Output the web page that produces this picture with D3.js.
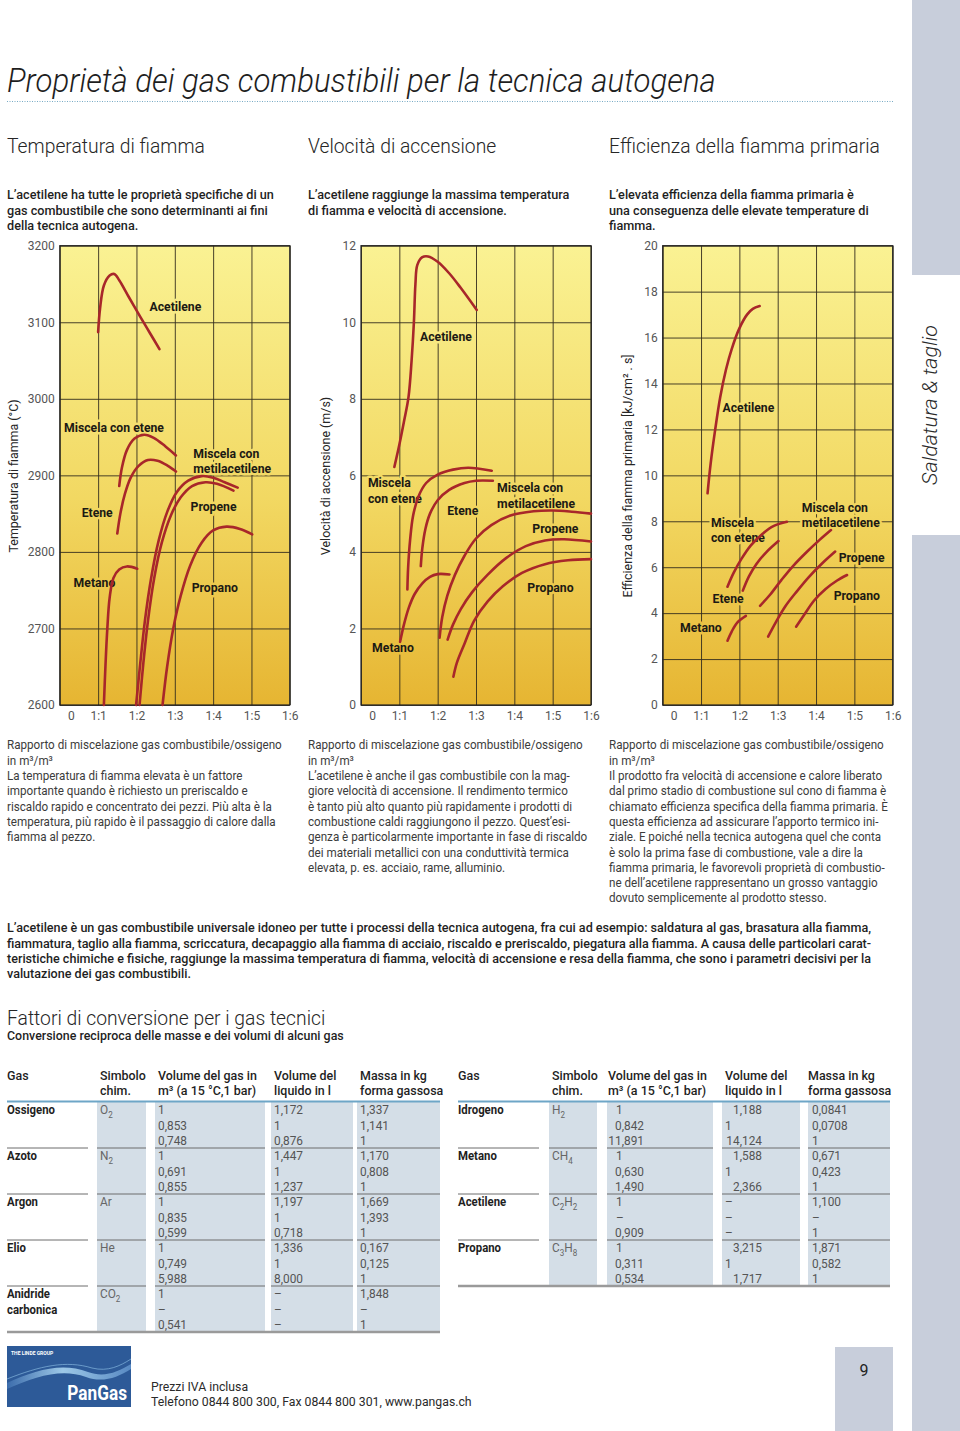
<!DOCTYPE html>
<html>
<head>
<meta charset="utf-8">
<script src="https://cdn.jsdelivr.net/npm/d3@7"></script>
<style>
  body { margin: 0; background: #fff; }
  svg { display: block; }
</style>
</head>
<body>
<svg id="page" width="960" height="1431"></svg>
<script>
var FONT = "Roboto, 'Open Sans', 'DejaVu Sans', sans-serif";

// ---- chart data ----
var ratioTicks = [0, 1, 2, 3, 4, 5, 6];
var ratioLabels = ["0", "1:1", "1:2", "1:3", "1:4", "1:5", "1:6"];
var tempTicks = [2600, 2700, 2800, 2900, 3000, 3100, 3200];
var speedTicks = [0, 2, 4, 6, 8, 10, 12];
var effTicks = [0, 2, 4, 6, 8, 10, 12, 14, 16, 18, 20];

var tempCurves = [
  ["Acetilene", [[1.0,3087],[1.05,3118],[1.15,3148],[1.3,3161],[1.42,3163],[1.55,3155],[1.8,3133],[2.1,3107],[2.35,3086],[2.6,3065]]],
  ["Miscela con etene", [[1.55,2886],[1.62,2910],[1.75,2933],[1.95,2948],[2.2,2953],[2.45,2949],[2.75,2938],[3.03,2926]]],
  ["Etene", [[1.5,2824],[1.58,2850],[1.7,2876],[1.85,2897],[2.05,2912],[2.3,2920],[2.55,2919],[2.8,2913],[3.03,2905]]],
  ["Metano", [[1.15,2600],[1.19,2650],[1.24,2700],[1.3,2740],[1.4,2766],[1.55,2777],[1.75,2781],[2.02,2778]]],
  ["Miscela con metilacetilene", [[1.99,2600],[2.1,2655],[2.22,2710],[2.38,2765],[2.58,2815],[2.8,2852],[3.05,2878],[3.35,2893],[3.7,2899],[4.0,2897],[4.3,2891],[4.64,2884]]],
  ["Propene", [[2.08,2600],[2.18,2655],[2.3,2710],[2.46,2765],[2.66,2812],[2.9,2848],[3.15,2871],[3.45,2886],[3.8,2891],[4.1,2889],[4.53,2880]]],
  ["Propano", [[2.68,2600],[2.8,2650],[2.96,2700],[3.15,2742],[3.4,2782],[3.7,2812],[4.0,2828],[4.35,2833],[4.7,2830],[5.02,2823]]]
];
var speedCurves = [
  ["Acetilene", [[0.87,6.22],[1.0,6.8],[1.12,7.4],[1.24,8.05],[1.32,9.0],[1.38,10.0],[1.42,11.0],[1.47,11.5],[1.6,11.7],[1.75,11.72],[2.0,11.58],[2.3,11.28],[2.6,10.9],[3.02,10.32]]],
  ["Miscela con etene", [[1.21,3.02],[1.23,3.6],[1.28,4.3],[1.36,4.95],[1.5,5.45],[1.7,5.8],[2.0,6.02],[2.4,6.15],[2.8,6.2],[3.41,6.12]]],
  ["Etene", [[1.56,3.63],[1.6,4.1],[1.68,4.6],[1.8,5.0],[2.0,5.35],[2.3,5.62],[2.7,5.8],[3.0,5.86],[3.44,5.86]]],
  ["Metano", [[1.02,1.65],[1.12,2.1],[1.25,2.55],[1.4,2.9],[1.6,3.18],[1.8,3.35],[2.0,3.42],[2.31,3.41]]],
  ["Miscela con metilacetilene", [[2.05,1.76],[2.12,2.3],[2.25,2.85],[2.45,3.4],[2.7,3.9],[3.0,4.35],[3.4,4.7],[3.9,4.95],[4.5,5.06],[5.0,5.08],[5.5,5.05],[6.0,5.0]]],
  ["Propene", [[2.26,1.71],[2.4,2.1],[2.6,2.5],[2.9,2.95],[3.3,3.4],[3.8,3.85],[4.3,4.15],[4.8,4.3],[5.3,4.33],[6.0,4.27]]],
  ["Propano", [[2.41,0.74],[2.5,1.1],[2.7,1.6],[2.95,2.2],[3.3,2.7],[3.7,3.1],[4.2,3.45],[4.8,3.68],[5.4,3.78],[6.0,3.81]]]
];
var effCurves = [
  ["Acetilene", [[1.17,9.22],[1.25,10.5],[1.37,12.0],[1.5,13.4],[1.65,14.6],[1.8,15.5],[2.0,16.4],[2.2,17.0],[2.35,17.25],[2.53,17.37]]],
  ["Miscela con etene", [[1.69,5.15],[1.85,5.75],[2.05,6.35],[2.3,6.95],[2.6,7.45],[2.9,7.8],[3.24,7.98]]],
  ["Etene", [[2.09,4.98],[2.25,5.6],[2.45,6.15],[2.7,6.65],[3.02,7.14]]],
  ["Metano", [[1.69,2.8],[1.8,3.2],[1.95,3.6],[2.17,3.88]]],
  ["Miscela con metilacetilene", [[2.54,4.32],[2.8,4.8],[3.1,5.45],[3.4,6.05],[3.75,6.65],[4.1,7.2],[4.39,7.62]]],
  ["Propene", [[2.75,2.98],[2.95,3.6],[3.2,4.3],[3.5,4.95],[3.8,5.55],[4.15,6.15],[4.5,6.68]]],
  ["Propano", [[3.48,3.41],[3.7,3.95],[3.95,4.55],[4.25,5.05],[4.55,5.42],[4.81,5.66]]]
];

// label anchors (left edge, vertical centre) in data units
var tempLabels = [["Acetilene",2.34,3120],["Miscela con etene",0.11,2962],["Miscela con\nmetilacetilene",3.48,2929],
  ["Etene",0.57,2852],["Propene",3.41,2859],["Metano",0.36,2760],["Propano",3.44,2754]];
var speedLabels = [["Acetilene",1.54,9.64],["Miscela\ncon etene",0.18,5.8],["Etene",2.25,5.07],
  ["Miscela con\nmetilacetilene",3.55,5.67],["Propene",4.47,4.62],["Propano",4.34,3.08],["Metano",0.29,1.49]];
var effLabels = [["Acetilene",1.56,12.97],["Miscela\ncon etene",1.26,7.96],["Miscela con\nmetilacetilene",3.63,8.61],
  ["Propene",4.59,6.42],["Etene",1.3,4.62],["Propano",4.46,4.78],["Metano",0.45,3.39]];

// ---- table data ----
var tableHeaders = [["Gas"], ["Simbolo", "chim."], ["Volume del gas in", "m³ (a 15 °C,1 bar)"], ["Volume del", "liquido in l"], ["Massa in kg", "forma gassosa"]];
var gasesA = ["Ossigeno", "Azoto", "Argon", "Elio", "Anidride\ncarbonica"];
var symbolsA = ["O_2", "N_2", "Ar", "He", "CO_2"];
var volGasA = [["1","0,853","0,748"],["1","0,691","0,855"],["1","0,835","0,599"],["1","0,749","5,988"],["1","–","0,541"]];
var volLiqA = [["1,172","1","0,876"],["1,447","1","1,237"],["1,197","1","0,718"],["1,336","1","8,000"],["–","–","–"]];
var massA = [["1,337","1,141","1"],["1,170","0,808","1"],["1,669","1,393","1"],["0,167","0,125","1"],["1,848","–","1"]];
var gasesB = ["Idrogeno", "Metano", "Acetilene", "Propano"];
var symbolsB = ["H_2", "CH_4", "C_2H_2", "C_3H_8"];
var volGasB = [["1","0,842","11,891"],["1","0,630","1,490"],["1","–","0,909"],["1","0,311","0,534"]];
var volLiqB = [["1,188","1","14,124"],["1,588","1","2,366"],["–","–","–"],["3,215","1","1,717"]];
var massB = [["0,0841","0,0708","1"],["0,671","0,423","1"],["1,100","–","1"],["1,871","0,582","1"]];

// ---- texts ----
var title = "Proprietà dei gas combustibili per la tecnica autogena";
var headings = ["Temperatura di fiamma", "Velocità di accensione", "Efficienza della fiamma primaria"];
var intros = [
  ["L’acetilene ha tutte le proprietà specifiche di un", "gas combustibile che sono determinanti ai fini", "della tecnica autogena."],
  ["L’acetilene raggiunge la massima temperatura", "di fiamma e velocità di accensione."],
  ["L’elevata efficienza della fiamma primaria è", "una conseguenza delle elevate temperature di", "fiamma."]
];
var notes = [
  ["Rapporto di miscelazione gas combustibile/ossigeno", "in m³/m³", "La temperatura di fiamma elevata è un fattore",
   "importante quando è richiesto un preriscaldo e", "riscaldo rapido e concentrato dei pezzi. Più alta è la",
   "temperatura, più rapido è il passaggio di calore dalla", "fiamma al pezzo."],
  ["Rapporto di miscelazione gas combustibile/ossigeno", "in m³/m³", "L’acetilene è anche il gas combustibile con la mag-",
   "giore velocità di accensione. Il rendimento termico", "è tanto più alto quanto più rapidamente i prodotti di",
   "combustione caldi raggiungono il pezzo. Quest’esi-", "genza è particolarmente importante in fase di riscaldo",
   "dei materiali metallici con una conduttività termica", "elevata, p. es. acciaio, rame, alluminio."],
  ["Rapporto di miscelazione gas combustibile/ossigeno", "in m³/m³", "Il prodotto fra velocità di accensione e calore liberato",
   "dal primo stadio di combustione sul cono di fiamma è", "chiamato efficienza specifica della fiamma primaria. È",
   "questa efficienza ad assicurare l’apporto termico ini-", "ziale. E poiché nella tecnica autogena quel che conta",
   "è solo la prima fase di combustione, vale a dire la", "fiamma primaria, le favorevoli proprietà di combustio-",
   "ne dell’acetilene rappresentano un grosso vantaggio", "dovuto semplicemente al prodotto stesso."]
];
var summary = [
  "L’acetilene è un gas combustibile universale idoneo per tutte i processi della tecnica autogena, fra cui ad esempio: saldatura al gas, brasatura alla fiamma,",
  "fiammatura, taglio alla fiamma, scriccatura, decapaggio alla fiamma di acciaio, riscaldo e preriscaldo, piegatura alla fiamma. A causa delle particolari carat-",
  "teristiche chimiche e fisiche, raggiunge la massima temperatura di fiamma, velocità di accensione e resa della fiamma, che sono i parametri decisivi per la",
  "valutazione dei gas combustibili."
];

var svg = d3.select("#page");
var defs = svg.append("defs");
var PT = 245.7, PB = 705, PW = 230;
var bg = defs.append("linearGradient").attr("id", "plotBg")
    .attr("gradientUnits", "userSpaceOnUse")
    .attr("x1", 0).attr("y1", PT).attr("x2", 0).attr("y2", PB);
bg.append("stop").attr("offset", 0).attr("stop-color", "#faf293");
bg.append("stop").attr("offset", 0.55).attr("stop-color", "#f2d862");
bg.append("stop").attr("offset", 1).attr("stop-color", "#e6b532");

// text styles: a condensing factor is measured so each style hits the width of the original
function style(size, weight, italic, sample, target) {
  var t = svg.append("text").attr("font-family", FONT).attr("font-size", size)
      .attr("font-weight", weight).attr("font-style", italic ? "italic" : "normal").text(sample);
  var w = t.node().getComputedTextLength();
  t.remove();
  return { size: size, weight: weight, italic: italic, k: w ? target / w : 1 };
}
var stTitle = style(34, 300, true, title, 709);
var stHead = style(21, 300, false, "Temperatura di fiamma", 198);
var stIntro = style(13, 500, false, intros[0][0], 267);
var stBody = style(13, 400, false, notes[0][0], 275);
var stSum = style(13, 500, false, summary[0], 864);
var stLabel = style(13, 700, false, "metilacetilene", 78);
var stAxis = style(13, 400, false, "Temperatura di fiamma (°C)", 153);
var stSub = style(13, 500, false, "Conversione reciproca delle masse e dei volumi di alcuni gas", 337);
var stTh = style(13, 500, false, "Volume del gas in", 99);
var stGas = style(13, 700, false, "Ossigeno", 48);
var stVal = style(13, 400, false, "0,853", 29);
var stFoot = style(13, 400, false, "Telefono 0844 800 300, Fax 0844 800 301, www.pangas.ch", 321);
var stSide = style(21, 300, true, "Saldatura & taglio", 160);

function txt(g, x, y, s, st, opt) {
  opt = opt || {};
  var t = g.append("text")
      .attr("transform", "translate(" + x + ",0) scale(" + st.k + ",1)")
      .attr("y", y)
      .attr("font-family", FONT).attr("font-size", st.size).attr("font-weight", st.weight)
      .attr("font-style", st.italic ? "italic" : "normal")
      .attr("fill", opt.fill || "#222")
      .attr("text-anchor", opt.anchor || "start");
  s.split(/_(\d)/).forEach(function(p, i) {
    if (!p) return;
    var sp = t.append("tspan").text(p);
    if (i % 2) sp.attr("baseline-shift", "-3").attr("font-size", st.size * 0.68);
  });
  if (opt.width) t.attr("textLength", opt.width / st.k).attr("lengthAdjust", "spacing");
  if (opt.halo) t.attr("stroke", "url(#plotBg)").attr("stroke-width", 5)
      .attr("stroke-linejoin", "round").attr("paint-order", "stroke");
  return t;
}
function txtRot(g, x, y, s, st, opt) {
  opt = opt || {};
  return g.append("text")
      .attr("transform", "translate(" + x + "," + y + ") rotate(-90) scale(" + st.k + ",1)")
      .attr("font-family", FONT).attr("font-size", st.size).attr("font-weight", st.weight)
      .attr("font-style", st.italic ? "italic" : "normal")
      .attr("fill", opt.fill || "#222").attr("text-anchor", "middle").text(s);
}
function lines(g, x, y0, arr, st, lh, opt) {
  arr.forEach(function(s, i) { txt(g, x, y0 + i * lh, s, st, opt); });
}

// ---- page frame ----
svg.append("rect").attr("x", 912).attr("y", 0).attr("width", 48).attr("height", 275).attr("fill", "#c8cedb");
svg.append("rect").attr("x", 912).attr("y", 535).attr("width", 48).attr("height", 896).attr("fill", "#c8cedb");
txtRot(svg, 937, 405, "Saldatura & taglio", stSide, { fill: "#2a2a2a" });

txt(svg, 7, 92, title, stTitle, { fill: "#1e1e1e" });
svg.append("line").attr("x1", 7).attr("x2", 893).attr("y1", 101.5).attr("y2", 101.5)
    .attr("stroke", "#78aac4").attr("stroke-width", 1).attr("stroke-dasharray", "1,1.5");

var colX = [7, 308, 609];
headings.forEach(function(h, i) { txt(svg, colX[i], 153, h, stHead, { fill: "#262626" }); });
intros.forEach(function(p, i) { lines(svg, colX[i], 199.5, p, stIntro, 15.3, { fill: "#1f1f1f" }); });
notes.forEach(function(p, i) { lines(svg, colX[i], 749.5, p, stBody, 15.3, { fill: "#3c3c3c" }); });
summary.forEach(function(s, i) {
  txt(svg, 7, 932.5 + i * 15.3, s, stSum, { fill: "#1f1f1f", width: i < 3 ? 864 : null });
});

// ---- charts ----
function chart(c) {
  var g = svg.append("g");
  var x = d3.scaleLinear().domain([0, 6]).range([c.left, c.left + PW]);
  var y = d3.scaleLinear().domain(c.domain).range([PB, PT]);
  g.append("rect").attr("x", c.left).attr("y", PT).attr("width", PW).attr("height", PB - PT)
      .attr("fill", "url(#plotBg)");
  var gy = g.append("g").attr("transform", "translate(" + c.left + ",0)")
      .call(d3.axisLeft(y).tickValues(c.ticks).tickSize(-PW).tickPadding(5).tickFormat(d3.format("d")));
  var gx = g.append("g").attr("transform", "translate(0," + PB + ")")
      .call(d3.axisBottom(x).tickValues(ratioTicks).tickSize(-(PB - PT)).tickPadding(6.5)
        .tickFormat(function(d, i) { return ratioLabels[i]; }));
  [gx, gy].forEach(function(a) {
    a.select(".domain").remove();
    a.selectAll(".tick line").attr("stroke", "#332d1e").attr("stroke-width", 0.9);
    a.selectAll(".tick text").attr("font-family", FONT).attr("font-size", 12).attr("fill", "#555");
  });
  gx.selectAll(".tick text").filter(function(d) { return d === 0; }).attr("dx", 11);
  g.append("rect").attr("x", c.left).attr("y", PT).attr("width", PW).attr("height", PB - PT)
      .attr("fill", "none").attr("stroke", "#222").attr("stroke-width", 1.2);
  txtRot(g, c.titleX, 476, c.title, stAxis, { fill: "#262626" });

  c.labels.forEach(function(l) {
    l[0].split("\n").forEach(function(s, i) {
      txt(g, x(l[1]), y(l[2]) + 4.5 + i * 15.3, s, stLabel, { halo: true, fill: "#1c1a14" });
    });
  });
  var line = d3.line().x(function(d) { return x(d[0]); }).y(function(d) { return y(d[1]); })
      .curve(d3.curveCatmullRom.alpha(0.5));
  g.selectAll("path.curve").data(c.curves).enter().append("path")
      .attr("class", "curve")
      .attr("d", function(d) { return line(d[1]); })
      .attr("fill", "none").attr("stroke", "#a8272a").attr("stroke-width", 2.6)
      .attr("stroke-linecap", "round");
}
chart({ left: 59.8, domain: [2600, 3200], ticks: tempTicks, curves: tempCurves, labels: tempLabels,
        title: "Temperatura di fiamma (°C)", titleX: 17.5 });
chart({ left: 361, domain: [0, 12], ticks: speedTicks, curves: speedCurves, labels: speedLabels,
        title: "Velocità di accensione (m/s)", titleX: 329.5 });
chart({ left: 662.7, domain: [0, 20], ticks: effTicks, curves: effCurves, labels: effLabels,
        title: "Efficienza della fiamma primaria [kJ/cm² . s]", titleX: 631.5 });

// ---- conversion tables ----
txt(svg, 7, 1025, "Fattori di conversione per i gas tecnici", stHead, { fill: "#262626" });
txt(svg, 7, 1040.5, "Conversione reciproca delle masse e dei volumi di alcuni gas", stSub, { fill: "#1f1f1f" });

function table(c, gases, syms, vals) {
  var g = svg.append("g");
  var top = 1102, bh = 46, n = gases.length;
  c.shade.forEach(function(s) {
    g.append("rect").attr("x", s[0]).attr("y", top).attr("width", s[1] - s[0]).attr("height", n * bh)
        .attr("fill", "#d4dee7");
  });
  tableHeaders.forEach(function(h, i) {
    h.forEach(function(s, j) { txt(g, c.head[i], 1080.5 + j * 15, s, stTh, { fill: "#1f1f1f" }); });
  });
  g.append("line").attr("x1", c.x0).attr("x2", c.x1).attr("y1", 1101.5).attr("y2", 1101.5)
      .attr("stroke", "#6ea6c7").attr("stroke-width", 2);
  gases.forEach(function(gas, b) {
    var t = top + b * bh;
    gas.split("\n").forEach(function(s, j) { txt(g, c.head[0], t + 12.5 + j * 15.3, s, stGas, { fill: "#1f1f1f" }); });
    txt(g, c.head[1], t + 12.5, syms[b], stVal, { fill: "#666" });
    vals.forEach(function(arr, ci) {
      var col = c.vals[ci];
      arr[b].forEach(function(v, r) {
        var right = col.rx && v.indexOf(",") >= 0;
        txt(g, right ? col.rx : col.x, t + 12.5 + r * 15.3, v, stVal,
            { fill: "#555", anchor: right ? "end" : "start" });
      });
    });
    if (b < n - 1) {
      var segs = [[c.x0, c.gasEnd]].concat(c.shade);
      segs.forEach(function(s) {
        g.append("line").attr("x1", s[0]).attr("x2", s[1]).attr("y1", t + bh).attr("y2", t + bh)
            .attr("stroke", "#6c6c6c").attr("stroke-width", 1);
      });
    }
  });
  g.append("line").attr("x1", c.x0).attr("x2", c.x1).attr("y1", top + n * bh).attr("y2", top + n * bh)
      .attr("stroke", "#9a9a9a").attr("stroke-width", 2.5);
}
table({ x0: 7, x1: 440, gasEnd: 88, head: [7, 100, 158, 274, 360],
        shade: [[97, 146], [155, 265], [271, 353], [357, 440]],
        vals: [{ x: 158 }, { x: 274 }, { x: 360 }] },
      gasesA, symbolsA, [volGasA, volLiqA, massA]);
table({ x0: 458, x1: 890, gasEnd: 539, head: [458, 552, 608, 725, 808],
        shade: [[549, 597], [607, 713], [722, 800], [808, 890]],
        vals: [{ x: 616, rx: 644 }, { x: 725, rx: 762 }, { x: 812 }] },
      gasesB, symbolsB, [volGasB, volLiqB, massB]);

// ---- footer ----
var logo = svg.append("g");
logo.append("rect").attr("x", 7).attr("y", 1346).attr("width", 124).attr("height", 61).attr("fill", "#2d5a98");
var wave = defs.append("linearGradient").attr("id", "wave").attr("x1", 0).attr("x2", 1).attr("y1", 0).attr("y2", 0);
wave.append("stop").attr("offset", 0).attr("stop-color", "#3e6fae");
wave.append("stop").attr("offset", 0.45).attr("stop-color", "#a9d4f0");
wave.append("stop").attr("offset", 1).attr("stop-color", "#5d8fc8");
logo.append("path").attr("d", "M7,1383 C35,1370 62,1362 88,1372 C104,1378 118,1372 131,1364 L131,1369 C117,1378 102,1383 86,1377 C62,1368 36,1376 7,1389 Z")
    .attr("fill", "url(#wave)").attr("opacity", 0.9);
logo.append("path").attr("d", "M7,1379 C40,1366 66,1360 92,1368 C108,1372 120,1366 131,1359")
    .attr("fill", "none").attr("stroke", "#8cbfe4").attr("stroke-width", 0.8).attr("opacity", 0.8);
logo.append("text").attr("x", 11).attr("y", 1354.5).attr("font-family", FONT).attr("font-size", 5)
    .attr("font-weight", 700).attr("fill", "#fff").text("THE LINDE GROUP");
logo.append("text").attr("transform", "translate(127,0) scale(0.82,1)").attr("y", 1400)
    .attr("text-anchor", "end").attr("font-family", FONT).attr("font-size", 21).attr("font-weight", 700)
    .attr("fill", "#fff").text("PanGas");

txt(svg, 151, 1391.5, "Prezzi IVA inclusa", stFoot, { fill: "#2a2a2a" });
txt(svg, 151, 1406.5, "Telefono 0844 800 300, Fax 0844 800 301, www.pangas.ch", stFoot, { fill: "#2a2a2a" });
svg.append("rect").attr("x", 835).attr("y", 1347).attr("width", 58).attr("height", 84).attr("fill", "#c8cedb");
svg.append("text").attr("x", 864).attr("y", 1376).attr("text-anchor", "middle").attr("font-family", FONT)
    .attr("font-size", 16).attr("fill", "#222").text("9");
</script>
</body>
</html>
